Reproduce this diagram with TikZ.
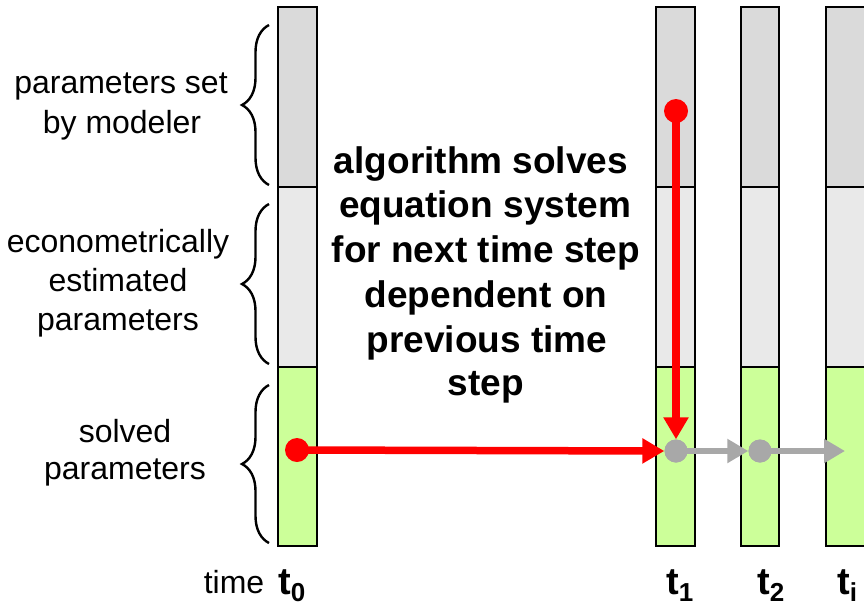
\documentclass[tikz,border=0pt]{standalone}
\usepackage{fontspec}
\setmainfont{Liberation Sans}
\usetikzlibrary{arrows.meta,decorations.pathreplacing}
\definecolor{topgray}{HTML}{DADADA}
\definecolor{midgray}{HTML}{E9E9E9}
\definecolor{solgreen}{HTML}{CCFF99}
\definecolor{dotgray}{HTML}{A8A8A8}
\definecolor{arrred}{HTML}{FF0000}
\newcommand\tlab[1]{\fontsize{38}{40}\selectfont\bfseries t\raisebox{-7pt}{\fontsize{26}{28}\selectfont #1}}
\tikzset{
  seg/.style={draw=black, line width=2.5pt},
  brc/.style={decorate, decoration={brace, amplitude=27pt, aspect=0.5}, line width=2.4pt},
  lbl/.style={font=\fontsize{32}{40}\selectfont, anchor=base, inner sep=0pt},
  ctr/.style={font=\fontsize{37}{44.5}\selectfont\bfseries, anchor=base, inner sep=0pt},
  tl/.style={anchor=base west, inner sep=0pt},
  reddot/.style={circle, fill=arrred, minimum size=24pt, inner sep=0pt},
  graydot/.style={circle, fill=dotgray, minimum size=23pt, inner sep=0pt},
  redarr/.style={draw=arrred, line width=7.5pt, -{Triangle[length=22pt,width=24pt]}},
  grayarr/.style={draw=dotgray, line width=6pt, -{Triangle[length=21pt,width=23pt]}}
}
\begin{document}
\begin{tikzpicture}[x=1pt,y=-1pt]
\useasboundingbox (0,0) rectangle (864,606);
% bars
\foreach \xl/\xr in {278/317, 656/695, 741/779, 826/865}{
  \fill[topgray] (\xl,7) rectangle (\xr,187);
  \fill[midgray] (\xl,187) rectangle (\xr,367);
  \fill[solgreen] (\xl,367) rectangle (\xr,546);
  \draw[seg] (\xl,7) rectangle (\xr,546);
  \draw[seg] (\xl,187) -- (\xr,187);
  \draw[seg] (\xl,367) -- (\xr,367);
}
% braces
\draw[brc] (269,185) -- (269,25);
\draw[brc] (269,364) -- (269,204);
\draw[brc] (269,543) -- (269,385);
% left labels
\node[lbl] (l1a) at (121,93) {parameters set};
\node[lbl] (l1b) at (122,133) {by modeler};
\node[lbl] (l2a) at (118,252) {econometrically};
\node[lbl] (l2b) at (118,291) {estimated};
\node[lbl] (l2c) at (118,330) {parameters};
\node[lbl] (l3a) at (125,442) {solved};
\node[lbl] (l3b) at (125,479) {parameters};
% center text
\node[ctr] (c1) at (481,173) {algorithm solves};
\node[ctr] (c2) at (485,217) {equation system};
\node[ctr] (c3) at (486,262) {for next time step};
\node[ctr] (c4) at (486,307) {dependent on};
\node[ctr] (c5) at (487,352) {previous time};
\node[ctr] (c6) at (486,395) {step};
% time labels
\node[lbl] (time) at (234,593) {time};
\node[tl] (t0) at (278,594) {\tlab{0}};
\node[tl] (t1) at (666,594) {\tlab{1}};
\node[tl] (t2) at (757,594) {\tlab{2}};
\node[tl] (ti) at (837,594) {\tlab{i}};
% dots and arrows
\node[reddot] (r0) at (297,450) {};
\node[reddot] (r1) at (676,111) {};
\node[graydot] (g1) at (676,451) {};
\node[graydot] (g2) at (760,451) {};
\coordinate (gend) at (845,451);
\draw[redarr] (r0.center) -- (g1.west);
\draw[redarr] (r1.center) -- (g1.north);
\draw[grayarr] (g1.center) -- (g2.west);
\draw[grayarr] (g2.center) -- (gend);
\node[graydot] at (g1) {};
\node[graydot] at (g2) {};
\end{tikzpicture}
\end{document}
